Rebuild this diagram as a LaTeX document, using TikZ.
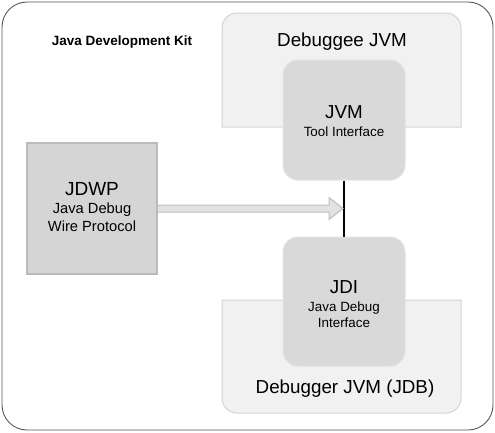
\documentclass[tikz,border=0pt]{standalone}
\usepackage{fontspec}
\setmainfont{Liberation Sans}
\usetikzlibrary{positioning, calc}
\definecolor{frameline}{HTML}{555555}
\definecolor{vmfill}{HTML}{F1F1F1}
\definecolor{vmline}{HTML}{D4D4D4}
\definecolor{boxfill}{HTML}{D9D9D9}
\definecolor{boxline}{HTML}{E3E3E3}
\definecolor{wirefill}{HTML}{D5D5D5}
\definecolor{wireline}{HTML}{BBBBBB}
\definecolor{arrowfill}{HTML}{E2E2E2}
\definecolor{arrowline}{HTML}{BEBEBE}
\tikzset{
  vmbox/.style={fill=vmfill, draw=vmline, line width=1pt},
  toolbox/.style={rectangle, rounded corners=15pt, draw=boxline,
                  fill=boxfill, line width=1pt, minimum width=122pt,
                  align=center, inner sep=0pt},
  wirebox/.style={rectangle, draw=wireline, fill=wirefill, line width=1.2pt,
                  minimum width=130pt, minimum height=131pt,
                  align=center, inner sep=0pt},
  bigtxt/.style={font=\fontsize{18.8}{22}\selectfont},
  smalltxt/.style={font=\fontsize{13.4}{16.5}\selectfont},
}

\begin{document}
\begin{tikzpicture}[x=1pt, y=-1pt]
  \useasboundingbox (0,0) rectangle (495,432);

  %% outer frame
  \draw[frameline, line width=0.9pt, rounded corners=25pt]
    (2,2) rectangle (493,430);
  \node[font=\bfseries\fontsize{13.5}{16}\selectfont] (jdk) at (122,42)
    {Java Development Kit};

  %% VM containers (y axis points down, so angles are mirrored)
  \draw[vmbox] (222,127) -- (222,28) arc[start angle=180, end angle=270, radius=15]
    -- (446,13) arc[start angle=270, end angle=360, radius=15] -- (461,127) -- cycle;
  \draw[vmbox] (222,300) -- (222,398) arc[start angle=180, end angle=90, radius=15]
    -- (446,413) arc[start angle=90, end angle=0, radius=15] -- (461,300) -- cycle;
  \node[bigtxt] (debuggee) at (342,42) {Debuggee JVM};
  \node[bigtxt] (debugger) at (345,389) {Debugger JVM (JDB)};

  %% tool boxes
  \node[toolbox, minimum height=120pt] (jvm) at (344,120) {};
  \node[bigtxt]   (jvmname) at (344,112) {JVM};
  \node[smalltxt, below=1pt of jvmname] (jvmsub) {Tool Interface};

  \node[toolbox, minimum height=129pt] (jdi) at (344,301.5) {};
  \node[bigtxt]   (jdiname) at (344,287) {JDI};
  \node[smalltxt, below=1pt of jdiname, align=center] (jdisub)
    {Java Debug\\Interface};

  \node[wirebox] (jdwp) at (92,208.5) {};
  \node[font=\fontsize{19}{22}\selectfont] (jdwpname) at (92,189) {JDWP};
  \node[font=\fontsize{14.7}{18}\selectfont, below=0pt of jdwpname, align=center]
    (jdwpsub) {Java Debug\\Wire Protocol};

  %% link and wire arrow
  \draw[black, line width=1.6pt] (jvm.south) -- (jdi.north);
  \coordinate (tip) at (jvm.south |- jdwp.east);
  \filldraw[fill=arrowfill, draw=arrowline, line width=1pt]
    ($(jdwp.east)+(0.6,-3.5)$) -- ($(tip)+(-15,-3.5)$) -- ($(tip)+(-15,-11)$)
    -- ($(tip)+(-1,0)$) -- ($(tip)+(-15,11)$) -- ($(tip)+(-15,3.5)$)
    -- ($(jdwp.east)+(0.6,3.5)$);

\end{tikzpicture}
\end{document}
